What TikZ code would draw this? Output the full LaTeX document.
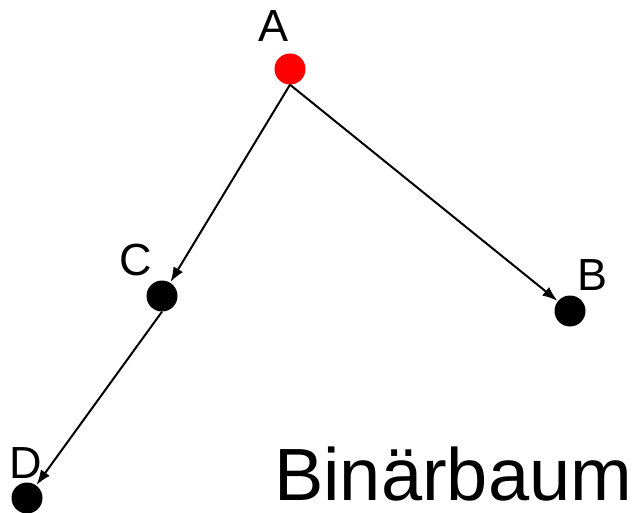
\documentclass[tikz,border=0pt]{standalone}
\usepackage{fontspec}
\setmainfont{Liberation Sans}
\usetikzlibrary{arrows.meta}
\begin{document}
\begin{tikzpicture}[x=1pt,y=-1pt,
  vert/.style={circle,fill=black,inner sep=0pt,minimum size=31pt},
  lbl/.style={anchor=base,font=\fontsize{45}{45}\selectfont,inner sep=0pt},
  edge/.style={line width=2pt,-{Latex[length=15pt,width=11pt]},shorten >=0.5pt}]
\useasboundingbox (0,0) rectangle (639,513);
\node[vert,fill=red] (A) at (290,69) {};
\node[vert] (C) at (162,296) {};
\node[vert] (B) at (570,311) {};
\node[vert] (D) at (27,498) {};
\node[lbl] (lA) at (274,42) {A};
\node[lbl] (lC) at (136,275) {C};
\node[lbl] (lB) at (592,290) {B};
\node[lbl] (lD) at (26,478) {D};
\node[anchor=base west,inner sep=0pt,text depth=0pt,font=\fontsize{74}{74}\selectfont] (title) at (274,500) {Binärbaum};
\draw[edge] (A.south) -- (C);
\draw[edge] (A.south) -- (B);
\draw[edge] (C.south) -- (D);
\end{tikzpicture}
\end{document}
